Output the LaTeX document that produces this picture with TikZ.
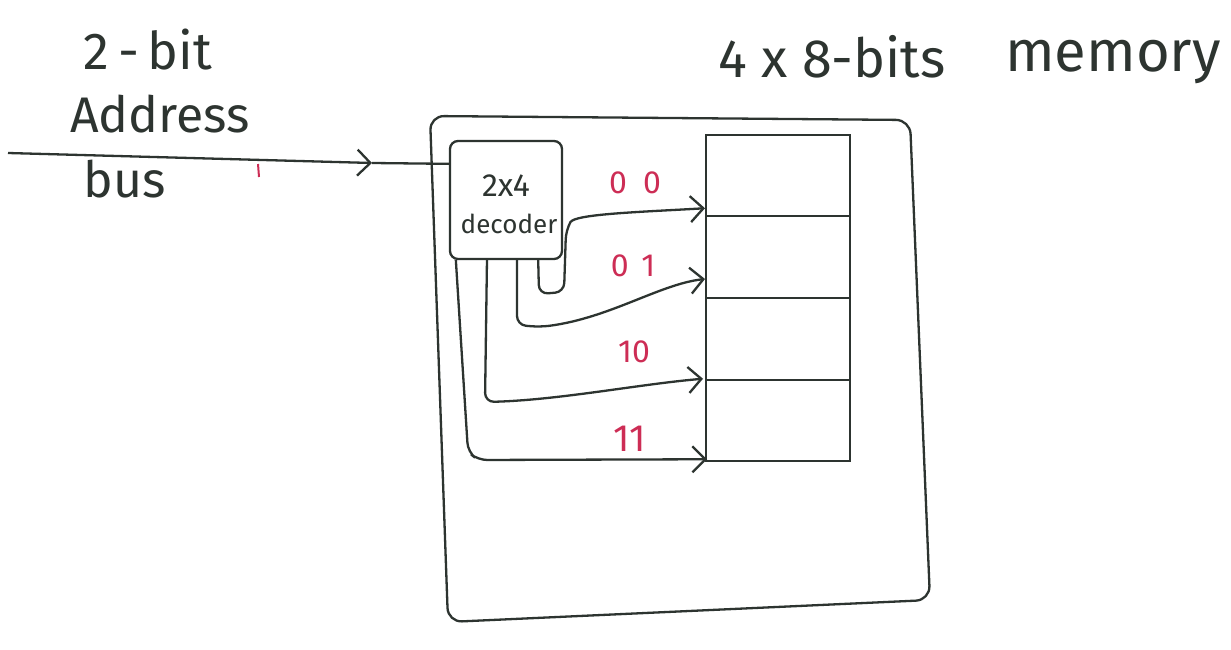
\documentclass[tikz,border=0pt]{standalone}
\usepackage{fontspec}
\setmainfont{Fira Sans}
\usetikzlibrary{arrows.meta,calc}
\definecolor{ink}{RGB}{45,52,48}
\definecolor{redink}{RGB}{205,45,85}
\begin{document}
\begin{tikzpicture}[x=1pt,y=-1pt,
  line width=2.3pt, ink,
  hand/.style={font=\fontsize{50}{56}\selectfont, text=ink, anchor=base, inner sep=0pt},
  lbl/.style={font=\fontsize{32}{36}\selectfont, text=redink, anchor=base, inner sep=0pt},
  cell/.style={draw=ink, line width=2pt, minimum width=144pt, minimum height=81.5pt, inner sep=0pt},
  tip/.style={-{Straight Barb[length=13pt,width=26pt,line width=2.3pt]}},
  wire/.style={draw=ink, rounded corners=9pt}]
\useasboundingbox (0,0) rectangle (1231,650);
\fill[white] (0,0) rectangle (1231,650);

% titles
\node[hand, font=\fontsize{52}{56}\selectfont] (t2bit) at (148,70) {2\,-\,bit};
\node[hand] (taddr) at (160,132) {Address};
\node[hand] (tbus) at (125,197) {bus};
\node[hand, font=\fontsize{54}{60}\selectfont] (tmem1) at (832,78) {4 x 8-bits};
\node[hand, font=\fontsize{58}{64}\selectfont] (tmem2) at (1113,72) {memory};

% outer box
\draw[rounded corners=14pt] (430,116) -- (910,120) -- (930,600) -- (448,622) -- cycle;

% decoder
\node[draw=ink, rounded corners=8pt, minimum width=112pt, minimum height=118pt, inner sep=0pt] (dec) at (506,200) {};
\node[font=\fontsize{32}{36}\selectfont, text=ink, anchor=base, inner sep=0pt] (dtop) at (506,196) {2x4};
\node[font=\fontsize{26}{30}\selectfont, text=ink, anchor=base, inner sep=0pt] (dbot) at (509,233) {decoder};

% memory cells
\node[cell] (m0) at (778,175.5) {};
\node[cell] (m1) at (778,257) {};
\node[cell] (m2) at (778,339) {};
\node[cell] (m3) at (778,420.5) {};

% labels
\node[lbl] (l00) at (635,193) {0\hspace{0.5em}0};
\node[lbl] (l01) at (633,276) {0\hspace{0.4em}1};
\node[lbl] (l10) at (634,362) {10};
\node[lbl, font=\fontsize{38}{42}\selectfont] (l11) at (630,451) {11};

% input bus
\coordinate (in0) at (8,153);
\coordinate (ina) at (372,163);
\draw[tip] (in0) -- (ina);
\draw (ina) -- ($(dec.north west)+(0,24)$);
\draw[redink, line width=2pt] (258,164) -- (259,177);

% tip coordinates
\coordinate (t0) at ($(m0.south west)+(0,-9)$);
\coordinate (t1) at ($(m1.west)+(0,22)$);
\coordinate (t2) at ($(m2.south west)+(-2,-2)$);
\coordinate (t3) at ($(m3.south west)+(2,-3)$);
\coordinate (o0) at ($(dec.south east)+(-25,-2)$);
\coordinate (o1) at ($(dec.south)+(11,0)$);
\coordinate (o2) at ($(dec.south)+(-19,-2)$);
\coordinate (o3) at ($(dec.south west)+(7,0)$);

% decoder outputs
\draw[wire, tip] (o0) -- (539,294) -- (564,292) -- (566,230) .. controls (575,214) and (640,212) .. (t0);
\draw[wire, tip] (o1) -- (517,325) -- (540,327) .. controls (610,318) and (660,284) .. (t1);
\draw[wire, tip] (o2) -- (485,402) .. controls (560,400) and (640,384) .. (t2);
\draw[wire, tip] (o3) -- (468,452) -- (478,460) -- (t3);
\end{tikzpicture}
\end{document}
